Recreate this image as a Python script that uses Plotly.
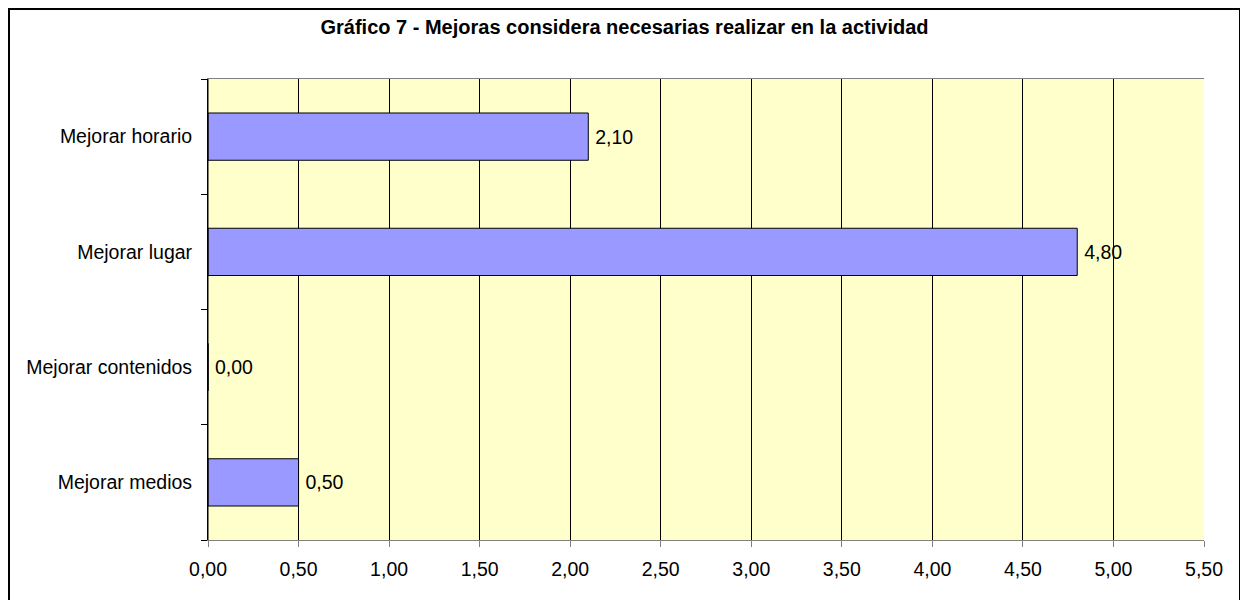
import plotly.graph_objects as go

categories = ["Mejorar horario", "Mejorar lugar", "Mejorar contenidos", "Mejorar medios"]
values = [2.10, 4.80, 0.00, 0.50]
x_ticks = [0, 0.5, 1, 1.5, 2, 2.5, 3, 3.5, 4, 4.5, 5, 5.5]
title = "Gráfico 7 - Mejoras considera necesarias realizar en la actividad"

FONT = "Liberation Sans, Arial, sans-serif"
FS = 19.5

fig = go.Figure()
fig.add_trace(go.Bar(
    y=categories,
    x=values,
    orientation="h",
    marker=dict(color="#9999FF", line=dict(color="#000000", width=1)),
    width=0.41,
    text=["\u2009" + f"{v:.2f}".replace(".", ",") for v in values],
    textposition="outside",
    textfont=dict(family=FONT, size=FS, color="#000000"),
    cliponaxis=False,
))

fig.update_layout(
    width=1248, height=600,
    margin=dict(l=200, r=52, t=71, b=68),
    paper_bgcolor="#FFFFFF",
    plot_bgcolor="#FFFFCC",
    separators=",.",
    showlegend=False,
    font=dict(family=FONT, size=FS, color="#000000"),
    title=dict(text="<b>" + title + "</b>", x=0.494, xref="container", xanchor="center",
               y=1 - 19 / 600, yref="container", yanchor="middle",
               font=dict(family=FONT, size=20, color="#000000")),
    xaxis=dict(
        range=[0, 5.5], tickvals=x_ticks, tickformat=".2f",
        showgrid=True, gridcolor="#000000", gridwidth=1,
        zeroline=False,
        showline=True, linecolor="#808080", linewidth=1, mirror=True,
        ticks="outside", ticklen=6, tickcolor="#808080",
        tickfont=dict(family=FONT, size=FS, color="#000000"),
        ticklabelstandoff=6,
        fixedrange=True,
    ),
    yaxis=dict(
        categoryorder="array", categoryarray=categories[::-1],
        showgrid=False, zeroline=False,
        showline=True, linecolor="#000000", linewidth=1,
        ticks="outside", ticklen=6, tickcolor="#000000",
        tickson="boundaries",
        tickfont=dict(family=FONT, size=FS, color="#000000"),
        ticklabelstandoff=11,
    ),
)

# outer chart border
fig.add_shape(type="rect", xref="paper", yref="paper",
              x0=(1 - 200) / 996, x1=(1232 - 200) / 996,
              y0=(532 - 620) / 461, y1=1 + (71 - 1) / 461,
              line=dict(color="#000000", width=2), fillcolor="rgba(0,0,0,0)", layer="above")
# left axis drawn black over grey frame
fig.add_shape(type="line", xref="paper", yref="paper", x0=0, x1=0, y0=0, y1=1,
              line=dict(color="#000000", width=1), layer="above")

fig.write_html("out.html")
